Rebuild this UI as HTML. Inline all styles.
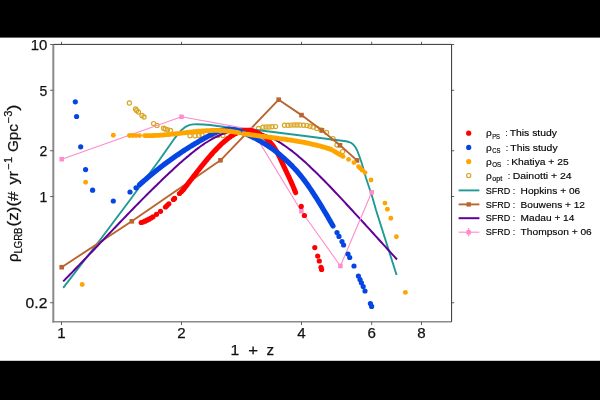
<!DOCTYPE html>
<html><head><meta charset="utf-8"><title>chart</title>
<style>html,body{margin:0;padding:0;background:#fff;width:600px;height:400px;overflow:hidden}
body{font-family:"Liberation Sans",sans-serif}</style></head>
<body>
<svg width="600" height="400" viewBox="0 0 600 400" style="display:block;position:absolute;left:0;top:0">
<rect x="0" y="0" width="600" height="400" fill="#ffffff"/>
<rect x="0" y="0" width="600" height="37.6" fill="#000"/>
<rect x="0" y="360.8" width="600" height="39.2" fill="#000"/>
<defs><clipPath id="ax"><rect x="53.3" y="44.4" width="398.3" height="277.40000000000003"/></clipPath></defs>
<g clip-path="url(#ax)" fill="none" stroke-linejoin="round">
<g stroke="#daa520" stroke-width="1.2" fill="none">
<circle cx="129.4" cy="103" r="2.1"/>
<circle cx="135.6" cy="109" r="2.1"/>
<circle cx="136.6" cy="110.4" r="2.1"/>
<circle cx="138.4" cy="112" r="2.1"/>
<circle cx="142" cy="115.4" r="2.1"/>
<circle cx="144" cy="117" r="2.1"/>
<circle cx="153.6" cy="123.6" r="2.1"/>
<circle cx="157" cy="125.4" r="2.1"/>
<circle cx="163.6" cy="128.2" r="2.1"/>
<circle cx="165.2" cy="129" r="2.1"/>
<circle cx="167.4" cy="129.7" r="2.1"/>
<circle cx="170.5" cy="130.4" r="2.1"/>
<circle cx="190" cy="135.8" r="2.1"/>
<circle cx="195" cy="135.8" r="2.1"/>
<circle cx="199" cy="135.4" r="2.1"/>
<circle cx="202" cy="135" r="2.1"/>
<circle cx="212" cy="135.6" r="2.1"/>
<circle cx="218" cy="135.6" r="2.1"/>
<circle cx="223" cy="135.6" r="2.1"/>
<circle cx="258.5" cy="128.4" r="2.1"/>
<circle cx="263" cy="127.2" r="2.1"/>
<circle cx="266" cy="127" r="2.1"/>
<circle cx="269" cy="127" r="2.1"/>
<circle cx="272" cy="126.8" r="2.1"/>
<circle cx="275.5" cy="126.6" r="2.1"/>
<circle cx="284.5" cy="125.3" r="2.1"/>
<circle cx="288" cy="125.2" r="2.1"/>
<circle cx="291" cy="125.1" r="2.1"/>
<circle cx="294" cy="125" r="2.1"/>
<circle cx="297" cy="125" r="2.1"/>
<circle cx="300" cy="125" r="2.1"/>
<circle cx="303.5" cy="125.2" r="2.1"/>
<circle cx="307" cy="125.6" r="2.1"/>
<circle cx="310" cy="126.2" r="2.1"/>
<circle cx="313" cy="127" r="2.1"/>
<circle cx="317" cy="128.4" r="2.1"/>
<circle cx="321" cy="130" r="2.1"/>
<circle cx="326.6" cy="132.4" r="2.1"/>
<circle cx="333" cy="138.6" r="2.1"/>
<circle cx="337" cy="145" r="2.1"/>
<circle cx="342.6" cy="151.6" r="2.1"/>
</g>
<path d="M63.20,287.80 L91.50,251.00 L100.00,240.00 L130.00,200.00 L152.00,170.00 L159.40,160.00 L165.00,152.00 L175.00,137.80 L179.50,132.20 L182.50,129.20 L185.00,127.20 L187.50,125.80 L190.00,124.90 L193.00,124.40 L197.00,124.30 L203.00,124.50 L210.00,125.00 L225.00,127.00 L259.00,130.20 L305.00,136.00 L330.00,139.20 L342.00,140.70 L346.00,141.30 L349.00,142.00 L351.50,143.10 L353.50,144.80 L355.30,147.00 L357.00,150.00 L359.50,156.50 L362.00,164.00 L366.00,178.00 L372.00,196.00 L376.00,210.00 L395.00,270.00 L396.60,275.00" stroke="#1f9a94" stroke-width="1.9"/>
<path d="M61.70,267.20 L131.80,221.30 L220.50,160.30 L278.70,99.70 L301.50,115.10 L322.00,130.40 L340.00,145.30 L357.00,160.40" stroke="#ba652f" stroke-width="1.9"/>
<rect x="59.40" y="264.90" width="4.6" height="4.6" fill="#ba652f" stroke="none"/>
<rect x="129.50" y="219.00" width="4.6" height="4.6" fill="#ba652f" stroke="none"/>
<rect x="218.20" y="158.00" width="4.6" height="4.6" fill="#ba652f" stroke="none"/>
<rect x="276.40" y="97.40" width="4.6" height="4.6" fill="#ba652f" stroke="none"/>
<rect x="299.20" y="112.80" width="4.6" height="4.6" fill="#ba652f" stroke="none"/>
<rect x="319.70" y="128.10" width="4.6" height="4.6" fill="#ba652f" stroke="none"/>
<rect x="337.70" y="143.00" width="4.6" height="4.6" fill="#ba652f" stroke="none"/>
<rect x="354.70" y="158.10" width="4.6" height="4.6" fill="#ba652f" stroke="none"/>
<path d="M63.20,281.40 C63.67,280.92 65.07,279.51 66.01,278.56 C66.94,277.61 67.88,276.66 68.81,275.71 C69.75,274.75 70.68,273.80 71.62,272.84 C72.55,271.88 73.49,270.92 74.42,269.96 C75.36,268.99 76.29,268.03 77.23,267.06 C78.16,266.10 79.10,265.13 80.03,264.16 C80.97,263.19 81.90,262.22 82.84,261.25 C83.77,260.28 84.71,259.30 85.64,258.33 C86.58,257.35 87.51,256.38 88.45,255.40 C89.38,254.42 90.32,253.44 91.25,252.47 C92.19,251.49 93.12,250.51 94.06,249.53 C94.99,248.55 95.93,247.56 96.86,246.58 C97.80,245.60 98.73,244.62 99.67,243.64 C100.60,242.66 101.54,241.67 102.47,240.69 C103.41,239.71 104.34,238.73 105.28,237.74 C106.21,236.76 107.15,235.78 108.08,234.80 C109.02,233.82 109.95,232.83 110.89,231.85 C111.82,230.87 112.76,229.89 113.69,228.91 C114.63,227.93 115.56,226.95 116.50,225.97 C117.43,225.00 118.37,224.02 119.30,223.04 C120.24,222.07 121.17,221.09 122.11,220.12 C123.04,219.14 123.98,218.17 124.91,217.20 C125.85,216.23 126.78,215.26 127.72,214.29 C128.65,213.32 129.59,212.36 130.52,211.39 C131.46,210.43 132.39,209.47 133.33,208.51 C134.26,207.55 135.20,206.59 136.13,205.63 C137.07,204.67 138.00,203.72 138.94,202.77 C139.87,201.82 140.81,200.87 141.74,199.92 C142.68,198.98 143.61,198.03 144.55,197.09 C145.48,196.15 146.42,195.21 147.35,194.28 C148.29,193.34 149.22,192.41 150.16,191.48 C151.09,190.55 152.03,189.63 152.96,188.70 C153.90,187.78 154.83,186.86 155.77,185.95 C156.70,185.03 157.64,184.12 158.57,183.21 C159.51,182.31 160.44,181.40 161.38,180.50 C162.31,179.60 163.25,178.70 164.18,177.81 C165.12,176.92 166.05,176.03 166.99,175.15 C167.92,174.27 168.86,173.39 169.79,172.51 C170.73,171.64 171.66,170.77 172.60,169.90 C173.53,169.04 174.47,168.17 175.40,167.32 C176.34,166.46 177.27,165.61 178.21,164.77 C179.14,163.92 180.08,163.09 181.01,162.26 C181.95,161.43 182.88,160.60 183.82,159.79 C184.75,158.97 185.69,158.17 186.62,157.37 C187.56,156.57 188.49,155.79 189.43,155.01 C190.36,154.24 191.30,153.47 192.23,152.72 C193.17,151.97 194.10,151.23 195.04,150.50 C195.97,149.78 196.91,149.06 197.84,148.36 C198.78,147.67 199.71,146.98 200.65,146.31 C201.58,145.65 202.52,144.99 203.45,144.36 C204.39,143.72 205.32,143.10 206.26,142.50 C207.19,141.90 208.13,141.32 209.06,140.76 C210.00,140.20 210.93,139.65 211.87,139.13 C212.80,138.61 213.74,138.10 214.67,137.62 C215.61,137.14 216.54,136.68 217.48,136.25 C218.41,135.81 219.35,135.40 220.28,135.01 C221.22,134.61 222.15,134.25 223.09,133.90 C224.02,133.56 224.96,133.23 225.89,132.93 C226.83,132.64 227.76,132.36 228.70,132.11 C229.63,131.86 230.57,131.63 231.50,131.43 C232.44,131.23 233.37,131.05 234.31,130.90 C235.24,130.75 236.18,130.62 237.11,130.52 C238.05,130.42 238.98,130.34 239.92,130.29 C240.85,130.24 241.79,130.22 242.72,130.22 C243.66,130.22 244.59,130.25 245.53,130.31 C246.46,130.36 247.40,130.44 248.33,130.54 C249.27,130.64 250.20,130.77 251.14,130.92 C252.07,131.07 253.01,131.24 253.94,131.44 C254.88,131.64 255.81,131.86 256.75,132.11 C257.68,132.35 258.62,132.62 259.55,132.91 C260.49,133.20 261.42,133.51 262.36,133.85 C263.29,134.18 264.23,134.54 265.16,134.92 C266.10,135.29 267.03,135.69 267.97,136.11 C268.90,136.53 269.84,136.97 270.77,137.43 C271.71,137.89 272.64,138.38 273.58,138.88 C274.51,139.38 275.45,139.90 276.38,140.44 C277.32,140.98 278.25,141.54 279.19,142.12 C280.12,142.69 281.06,143.29 281.99,143.90 C282.93,144.52 283.86,145.15 284.80,145.80 C285.73,146.44 286.67,147.11 287.60,147.79 C288.54,148.47 289.47,149.17 290.41,149.88 C291.34,150.59 292.28,151.32 293.21,152.06 C294.15,152.80 295.08,153.56 296.02,154.32 C296.95,155.09 297.89,155.87 298.82,156.67 C299.76,157.46 300.69,158.27 301.63,159.09 C302.56,159.91 303.50,160.74 304.43,161.58 C305.37,162.42 306.30,163.27 307.24,164.13 C308.17,164.99 309.11,165.87 310.04,166.75 C310.98,167.63 311.91,168.52 312.85,169.41 C313.78,170.31 314.72,171.22 315.65,172.13 C316.59,173.05 317.52,173.97 318.46,174.90 C319.39,175.82 320.33,176.76 321.26,177.70 C322.20,178.64 323.13,179.59 324.07,180.54 C325.00,181.49 325.94,182.45 326.87,183.42 C327.81,184.38 328.74,185.35 329.68,186.32 C330.61,187.29 331.55,188.27 332.48,189.25 C333.42,190.24 334.35,191.22 335.29,192.21 C336.22,193.20 337.16,194.19 338.09,195.19 C339.03,196.18 339.96,197.18 340.90,198.18 C341.83,199.18 342.77,200.18 343.70,201.18 C344.64,202.19 345.57,203.19 346.51,204.20 C347.44,205.21 348.38,206.22 349.31,207.23 C350.25,208.24 351.18,209.25 352.12,210.27 C353.05,211.28 353.99,212.30 354.92,213.32 C355.86,214.33 356.79,215.35 357.73,216.37 C358.66,217.39 359.60,218.41 360.53,219.44 C361.47,220.46 362.40,221.48 363.34,222.51 C364.27,223.53 365.21,224.56 366.14,225.58 C367.08,226.61 368.01,227.63 368.95,228.66 C369.88,229.69 370.82,230.71 371.75,231.74 C372.69,232.77 373.62,233.80 374.56,234.83 C375.49,235.86 376.43,236.88 377.36,237.91 C378.30,238.94 379.23,239.97 380.17,241.00 C381.10,242.03 382.04,243.06 382.97,244.08 C383.91,245.11 384.84,246.14 385.78,247.17 C386.71,248.20 387.65,249.22 388.58,250.25 C389.52,251.27 390.45,252.30 391.39,253.33 C392.32,254.35 393.26,255.37 394.19,256.40 C395.13,257.42 396.53,258.95 397.00,259.46" stroke="#62009a" stroke-width="2.0"/>
<path d="M61.70,159.20 L181.50,116.80 L251.70,129.60 L301.40,211.20 L340.40,266.00 L371.70,192.30" stroke="#ff8bca" stroke-width="1.1"/>
<rect x="59.45" y="156.95" width="4.5" height="4.5" fill="#ff8bca" stroke="none"/>
<rect x="179.25" y="114.55" width="4.5" height="4.5" fill="#ff8bca" stroke="none"/>
<rect x="249.45" y="127.35" width="4.5" height="4.5" fill="#ff8bca" stroke="none"/>
<rect x="299.15" y="208.95" width="4.5" height="4.5" fill="#ff8bca" stroke="none"/>
<rect x="338.15" y="263.75" width="4.5" height="4.5" fill="#ff8bca" stroke="none"/>
<rect x="369.45" y="190.05" width="4.5" height="4.5" fill="#ff8bca" stroke="none"/>
<path d="M183.00,190.12 C183.16,189.92 183.63,189.31 183.95,188.90 C184.26,188.49 184.58,188.08 184.89,187.68 C185.21,187.27 185.52,186.86 185.84,186.45 C186.15,186.04 186.47,185.63 186.78,185.22 C187.10,184.81 187.42,184.40 187.73,183.99 C188.05,183.58 188.36,183.17 188.68,182.76 C188.99,182.35 189.31,181.94 189.62,181.53 C189.94,181.12 190.25,180.71 190.57,180.30 C190.89,179.89 191.20,179.48 191.52,179.07 C191.83,178.66 192.15,178.25 192.46,177.84 C192.78,177.43 193.09,177.02 193.41,176.61 C193.72,176.21 194.04,175.80 194.35,175.39 C194.67,174.98 194.99,174.58 195.30,174.17 C195.62,173.76 195.93,173.36 196.25,172.95 C196.56,172.55 196.88,172.14 197.19,171.74 C197.51,171.34 197.82,170.94 198.14,170.53 C198.45,170.13 198.77,169.73 199.09,169.33 C199.40,168.93 199.72,168.54 200.03,168.14 C200.35,167.74 200.66,167.34 200.98,166.95 C201.29,166.56 201.61,166.16 201.92,165.77 C202.24,165.38 202.56,164.99 202.87,164.60 C203.19,164.21 203.50,163.82 203.82,163.43 C204.13,163.05 204.45,162.66 204.76,162.28 C205.08,161.89 205.39,161.51 205.71,161.13 C206.02,160.75 206.34,160.38 206.66,160.00 C206.97,159.62 207.29,159.25 207.60,158.88 C207.92,158.50 208.23,158.13 208.55,157.76 C208.86,157.40 209.18,157.03 209.49,156.66 C209.81,156.30 210.12,155.94 210.44,155.58 C210.76,155.22 211.07,154.86 211.39,154.50 C211.70,154.15 212.02,153.80 212.33,153.45 C212.65,153.09 212.96,152.75 213.28,152.40 C213.59,152.05 213.91,151.71 214.23,151.37 C214.54,151.03 214.86,150.69 215.17,150.36 C215.49,150.02 215.80,149.69 216.12,149.36 C216.43,149.03 216.75,148.70 217.06,148.38 C217.38,148.06 217.69,147.74 218.01,147.42 C218.33,147.10 218.64,146.79 218.96,146.47 C219.27,146.16 219.59,145.85 219.90,145.55 C220.22,145.24 220.53,144.94 220.85,144.64 C221.16,144.35 221.48,144.05 221.79,143.76 C222.11,143.47 222.43,143.18 222.74,142.89 C223.06,142.61 223.37,142.33 223.69,142.05 C224.00,141.77 224.32,141.50 224.63,141.23 C224.95,140.96 225.26,140.70 225.58,140.43 C225.90,140.17 226.21,139.91 226.53,139.66 C226.84,139.41 227.16,139.16 227.47,138.91 C227.79,138.66 228.10,138.42 228.42,138.19 C228.73,137.95 229.05,137.72 229.36,137.49 C229.68,137.26 230.00,137.03 230.31,136.81 C230.63,136.59 230.94,136.38 231.26,136.17 C231.57,135.96 231.89,135.75 232.20,135.55 C232.52,135.35 232.83,135.15 233.15,134.96 C233.46,134.76 233.78,134.58 234.10,134.39 C234.41,134.21 234.73,134.03 235.04,133.86 C235.36,133.69 235.67,133.52 235.99,133.36 C236.30,133.20 236.62,133.04 236.93,132.89 C237.25,132.73 237.57,132.59 237.88,132.45 C238.20,132.30 238.51,132.17 238.83,132.04 C239.14,131.91 239.46,131.79 239.77,131.67 C240.09,131.55 240.40,131.44 240.72,131.34 C241.03,131.23 241.35,131.13 241.67,131.04 C241.98,130.95 242.30,130.87 242.61,130.79 C242.93,130.71 243.24,130.64 243.56,130.58 C243.87,130.52 244.19,130.46 244.50,130.41 C244.82,130.36 245.14,130.32 245.45,130.29 C245.77,130.26 246.08,130.23 246.40,130.22 C246.71,130.20 247.03,130.19 247.34,130.19 C247.66,130.19 247.97,130.20 248.29,130.21 C248.60,130.23 248.92,130.25 249.24,130.28 C249.55,130.31 249.87,130.35 250.18,130.40 C250.50,130.44 250.81,130.50 251.13,130.56 C251.44,130.62 251.76,130.69 252.07,130.76 C252.39,130.84 252.70,130.92 253.02,131.01 C253.34,131.10 253.65,131.19 253.97,131.30 C254.28,131.40 254.60,131.51 254.91,131.63 C255.23,131.75 255.54,131.87 255.86,132.00 C256.17,132.13 256.49,132.27 256.81,132.42 C257.12,132.56 257.44,132.71 257.75,132.87 C258.07,133.03 258.38,133.19 258.70,133.36 C259.01,133.53 259.33,133.71 259.64,133.89 C259.96,134.07 260.27,134.26 260.59,134.46 C260.91,134.65 261.22,134.86 261.54,135.06 C261.85,135.27 262.17,135.48 262.48,135.70 C262.80,135.92 263.11,136.15 263.43,136.38 C263.74,136.61 264.06,136.84 264.37,137.09 C264.69,137.33 265.01,137.58 265.32,137.83 C265.64,138.08 265.95,138.34 266.27,138.61 C266.58,138.88 266.90,139.16 267.21,139.44 C267.53,139.72 267.84,140.02 268.16,140.32 C268.48,140.62 268.79,140.93 269.11,141.25 C269.42,141.58 269.74,141.91 270.05,142.25 C270.37,142.60 270.68,142.95 271.00,143.32 C271.31,143.69 271.63,144.07 271.94,144.46 C272.26,144.86 272.58,145.27 272.89,145.69 C273.21,146.11 273.52,146.55 273.84,147.01 C274.15,147.46 274.47,147.93 274.78,148.42 C275.10,148.90 275.41,149.40 275.73,149.92 C276.04,150.45 276.36,150.98 276.68,151.54 C276.99,152.10 277.31,152.68 277.62,153.27 C277.94,153.86 278.25,154.48 278.57,155.10 C278.88,155.72 279.20,156.37 279.51,157.02 C279.83,157.66 280.15,158.33 280.46,159.00 C280.78,159.67 281.09,160.34 281.41,161.03 C281.72,161.71 282.04,162.40 282.35,163.09 C282.67,163.77 282.98,164.47 283.30,165.16 C283.61,165.85 283.93,166.54 284.25,167.22 C284.56,167.90 284.88,168.58 285.19,169.26 C285.51,169.93 285.82,170.60 286.14,171.26 C286.45,171.93 286.77,172.59 287.08,173.25 C287.40,173.91 287.71,174.57 288.03,175.23 C288.35,175.89 288.66,176.55 288.98,177.22 C289.29,177.89 289.61,178.57 289.92,179.25 C290.24,179.93 290.55,180.62 290.87,181.32 C291.18,182.02 291.50,182.73 291.82,183.44 C292.13,184.16 292.45,184.89 292.76,185.63 C293.08,186.37 293.39,187.12 293.71,187.88 C294.02,188.64 294.34,189.41 294.65,190.20 C294.97,190.98 295.44,192.19 295.60,192.59" stroke="#ff0000" stroke-width="5.1" stroke-linecap="round"/>
<circle cx="141.2" cy="222.5" r="2.6" fill="#ff0000"/>
<circle cx="143" cy="222" r="2.6" fill="#ff0000"/>
<circle cx="145" cy="221.2" r="2.6" fill="#ff0000"/>
<circle cx="147" cy="220.2" r="2.6" fill="#ff0000"/>
<circle cx="149" cy="219.2" r="2.6" fill="#ff0000"/>
<circle cx="151" cy="218" r="2.6" fill="#ff0000"/>
<circle cx="153" cy="216.8" r="2.6" fill="#ff0000"/>
<circle cx="156.5" cy="214.3" r="2.6" fill="#ff0000"/>
<circle cx="160.5" cy="211.3" r="2.6" fill="#ff0000"/>
<circle cx="165.5" cy="207" r="2.6" fill="#ff0000"/>
<circle cx="167" cy="205.5" r="2.6" fill="#ff0000"/>
<circle cx="168.8" cy="203.8" r="2.6" fill="#ff0000"/>
<circle cx="173.5" cy="199.5" r="2.6" fill="#ff0000"/>
<circle cx="174.6" cy="198.4" r="2.6" fill="#ff0000"/>
<circle cx="179.5" cy="193.5" r="2.6" fill="#ff0000"/>
<circle cx="181.5" cy="191.5" r="2.6" fill="#ff0000"/>
<circle cx="301.25" cy="206.4" r="2.6" fill="#ff0000"/>
<circle cx="304.4" cy="215.5" r="2.6" fill="#ff0000"/>
<circle cx="314.8" cy="247.6" r="2.6" fill="#ff0000"/>
<circle cx="317.7" cy="256.1" r="2.6" fill="#ff0000"/>
<circle cx="319.3" cy="261" r="2.6" fill="#ff0000"/>
<circle cx="321" cy="267.3" r="2.6" fill="#ff0000"/>
<circle cx="321.6" cy="269.4" r="2.6" fill="#ff0000"/>
<path d="M139.50,184.77 C139.73,184.56 140.43,183.94 140.89,183.53 C141.36,183.12 141.82,182.71 142.28,182.30 C142.75,181.89 143.21,181.49 143.68,181.08 C144.14,180.68 144.60,180.28 145.07,179.88 C145.53,179.48 146.00,179.08 146.46,178.69 C146.92,178.29 147.39,177.90 147.85,177.50 C148.32,177.11 148.78,176.72 149.24,176.33 C149.71,175.94 150.17,175.56 150.64,175.17 C151.10,174.79 151.56,174.40 152.03,174.02 C152.49,173.64 152.96,173.26 153.42,172.89 C153.88,172.51 154.35,172.13 154.81,171.76 C155.28,171.38 155.74,171.01 156.21,170.64 C156.67,170.27 157.13,169.90 157.60,169.54 C158.06,169.17 158.53,168.81 158.99,168.44 C159.45,168.08 159.92,167.72 160.38,167.36 C160.85,167.00 161.31,166.64 161.77,166.29 C162.24,165.93 162.70,165.58 163.17,165.22 C163.63,164.87 164.09,164.52 164.56,164.17 C165.02,163.82 165.49,163.48 165.95,163.13 C166.41,162.78 166.88,162.44 167.34,162.10 C167.81,161.76 168.27,161.42 168.73,161.08 C169.20,160.74 169.66,160.40 170.13,160.07 C170.59,159.73 171.05,159.40 171.52,159.07 C171.98,158.74 172.45,158.41 172.91,158.08 C173.37,157.75 173.84,157.42 174.30,157.10 C174.77,156.77 175.23,156.45 175.69,156.13 C176.16,155.81 176.62,155.49 177.09,155.17 C177.55,154.85 178.01,154.53 178.48,154.22 C178.94,153.90 179.41,153.59 179.87,153.28 C180.33,152.97 180.80,152.66 181.26,152.35 C181.73,152.04 182.19,151.73 182.65,151.43 C183.12,151.12 183.58,150.82 184.05,150.52 C184.51,150.22 184.97,149.91 185.44,149.62 C185.90,149.32 186.37,149.02 186.83,148.72 C187.29,148.43 187.76,148.14 188.22,147.84 C188.69,147.55 189.15,147.26 189.62,146.97 C190.08,146.68 190.54,146.39 191.01,146.11 C191.47,145.82 191.94,145.54 192.40,145.25 C192.86,144.97 193.33,144.69 193.79,144.41 C194.26,144.13 194.72,143.85 195.18,143.57 C195.65,143.30 196.11,143.02 196.58,142.75 C197.04,142.47 197.50,142.20 197.97,141.93 C198.43,141.66 198.90,141.39 199.36,141.12 C199.82,140.86 200.29,140.59 200.75,140.32 C201.22,140.06 201.68,139.80 202.14,139.53 C202.61,139.27 203.07,139.01 203.54,138.75 C204.00,138.49 204.46,138.24 204.93,137.98 C205.39,137.73 205.86,137.47 206.32,137.22 C206.78,136.97 207.25,136.71 207.71,136.46 C208.18,136.22 208.64,135.97 209.10,135.73 C209.57,135.48 210.03,135.24 210.50,135.01 C210.96,134.77 211.42,134.54 211.89,134.31 C212.35,134.08 212.82,133.86 213.28,133.64 C213.74,133.42 214.21,133.21 214.67,133.00 C215.14,132.80 215.60,132.60 216.06,132.40 C216.53,132.21 216.99,132.02 217.46,131.85 C217.92,131.67 218.38,131.50 218.85,131.33 C219.31,131.17 219.78,131.02 220.24,130.87 C220.71,130.73 221.17,130.59 221.63,130.47 C222.10,130.34 222.56,130.22 223.03,130.12 C223.49,130.01 223.95,129.92 224.42,129.84 C224.88,129.75 225.35,129.68 225.81,129.62 C226.27,129.56 226.74,129.52 227.20,129.48 C227.67,129.45 228.13,129.43 228.59,129.41 C229.06,129.40 229.52,129.40 229.99,129.42 C230.45,129.43 230.91,129.45 231.38,129.49 C231.84,129.52 232.31,129.57 232.77,129.63 C233.23,129.69 233.70,129.76 234.16,129.84 C234.63,129.92 235.09,130.01 235.55,130.11 C236.02,130.21 236.48,130.32 236.95,130.44 C237.41,130.57 237.87,130.70 238.34,130.84 C238.80,130.98 239.27,131.14 239.73,131.30 C240.19,131.46 240.66,131.63 241.12,131.81 C241.59,131.99 242.05,132.17 242.51,132.36 C242.98,132.56 243.44,132.76 243.91,132.96 C244.37,133.16 244.83,133.37 245.30,133.58 C245.76,133.79 246.23,134.01 246.69,134.22 C247.15,134.44 247.62,134.66 248.08,134.88 C248.55,135.10 249.01,135.32 249.47,135.54 C249.94,135.77 250.40,135.99 250.87,136.22 C251.33,136.44 251.79,136.67 252.26,136.90 C252.72,137.13 253.19,137.36 253.65,137.60 C254.12,137.83 254.58,138.07 255.04,138.31 C255.51,138.55 255.97,138.79 256.44,139.04 C256.90,139.28 257.36,139.53 257.83,139.78 C258.29,140.04 258.76,140.29 259.22,140.55 C259.68,140.81 260.15,141.07 260.61,141.34 C261.08,141.60 261.54,141.87 262.00,142.15 C262.47,142.42 262.93,142.69 263.40,142.98 C263.86,143.26 264.32,143.54 264.79,143.83 C265.25,144.12 265.72,144.41 266.18,144.70 C266.64,145.00 267.11,145.30 267.57,145.60 C268.04,145.91 268.50,146.22 268.96,146.53 C269.43,146.84 269.89,147.16 270.36,147.48 C270.82,147.80 271.28,148.13 271.75,148.46 C272.21,148.79 272.68,149.13 273.14,149.47 C273.60,149.81 274.07,150.15 274.53,150.50 C275.00,150.85 275.46,151.21 275.92,151.57 C276.39,151.93 276.85,152.29 277.32,152.66 C277.78,153.03 278.24,153.40 278.71,153.78 C279.17,154.16 279.64,154.54 280.10,154.93 C280.56,155.32 281.03,155.71 281.49,156.11 C281.96,156.51 282.42,156.91 282.88,157.32 C283.35,157.73 283.81,158.14 284.28,158.55 C284.74,158.97 285.21,159.39 285.67,159.81 C286.13,160.24 286.60,160.67 287.06,161.10 C287.53,161.54 287.99,161.97 288.45,162.42 C288.92,162.86 289.38,163.31 289.85,163.77 C290.31,164.22 290.77,164.69 291.24,165.15 C291.70,165.62 292.17,166.10 292.63,166.58 C293.09,167.06 293.56,167.54 294.02,168.04 C294.49,168.53 294.95,169.03 295.41,169.54 C295.88,170.05 296.34,170.56 296.81,171.09 C297.27,171.61 297.73,172.14 298.20,172.68 C298.66,173.22 299.13,173.77 299.59,174.32 C300.05,174.88 300.52,175.44 300.98,176.02 C301.45,176.59 301.91,177.17 302.37,177.76 C302.84,178.36 303.30,178.96 303.77,179.57 C304.23,180.18 304.69,180.80 305.16,181.43 C305.62,182.06 306.09,182.70 306.55,183.35 C307.01,184.00 307.48,184.66 307.94,185.32 C308.41,185.99 308.87,186.66 309.33,187.34 C309.80,188.02 310.26,188.71 310.73,189.40 C311.19,190.09 311.65,190.79 312.12,191.49 C312.58,192.19 313.05,192.90 313.51,193.61 C313.97,194.32 314.44,195.04 314.90,195.76 C315.37,196.48 315.83,197.21 316.29,197.94 C316.76,198.67 317.22,199.41 317.69,200.15 C318.15,200.89 318.62,201.63 319.08,202.38 C319.54,203.13 320.01,203.88 320.47,204.64 C320.94,205.40 321.40,206.16 321.86,206.92 C322.33,207.69 322.79,208.46 323.26,209.23 C323.72,210.00 324.18,210.78 324.65,211.56 C325.11,212.34 325.58,213.13 326.04,213.92 C326.50,214.70 326.97,215.49 327.43,216.29 C327.90,217.08 328.36,217.88 328.82,218.68 C329.29,219.48 329.75,220.29 330.22,221.10 C330.68,221.90 331.14,222.71 331.61,223.53 C332.07,224.34 332.77,225.57 333.00,225.98" stroke="#0545e3" stroke-width="5.2" stroke-linecap="round"/>
<circle cx="75.3" cy="101.8" r="2.6" fill="#0545e3"/>
<circle cx="76.6" cy="116.5" r="2.6" fill="#0545e3"/>
<circle cx="80.7" cy="146.8" r="2.6" fill="#0545e3"/>
<circle cx="85.6" cy="169.6" r="2.6" fill="#0545e3"/>
<circle cx="92.6" cy="190.2" r="2.6" fill="#0545e3"/>
<circle cx="113.3" cy="201" r="2.6" fill="#0545e3"/>
<circle cx="130" cy="192" r="2.6" fill="#0545e3"/>
<circle cx="136" cy="187.8" r="2.6" fill="#0545e3"/>
<circle cx="337" cy="232.6" r="2.6" fill="#0545e3"/>
<circle cx="339" cy="236.4" r="2.6" fill="#0545e3"/>
<circle cx="342" cy="241.6" r="2.6" fill="#0545e3"/>
<circle cx="343.6" cy="245" r="2.6" fill="#0545e3"/>
<circle cx="348" cy="254" r="2.6" fill="#0545e3"/>
<circle cx="349.7" cy="257.5" r="2.6" fill="#0545e3"/>
<circle cx="354" cy="266" r="2.6" fill="#0545e3"/>
<circle cx="358.4" cy="276" r="2.6" fill="#0545e3"/>
<circle cx="360" cy="279.6" r="2.6" fill="#0545e3"/>
<circle cx="361.4" cy="282.8" r="2.6" fill="#0545e3"/>
<circle cx="363.2" cy="286.6" r="2.6" fill="#0545e3"/>
<circle cx="365" cy="291" r="2.6" fill="#0545e3"/>
<circle cx="370.4" cy="303.6" r="2.6" fill="#0545e3"/>
<circle cx="371.6" cy="306.4" r="2.6" fill="#0545e3"/>
<path d="M144.50,135.53 C144.77,135.53 145.57,135.56 146.10,135.57 C146.63,135.58 147.16,135.59 147.70,135.59 C148.23,135.60 148.76,135.60 149.29,135.60 C149.83,135.60 150.36,135.59 150.89,135.59 C151.43,135.58 151.96,135.57 152.49,135.56 C153.02,135.55 153.56,135.53 154.09,135.51 C154.62,135.50 155.16,135.48 155.69,135.45 C156.22,135.43 156.75,135.41 157.29,135.38 C157.82,135.35 158.35,135.32 158.88,135.29 C159.42,135.26 159.95,135.23 160.48,135.19 C161.02,135.16 161.55,135.12 162.08,135.08 C162.61,135.04 163.15,135.00 163.68,134.96 C164.21,134.91 164.75,134.87 165.28,134.82 C165.81,134.78 166.34,134.73 166.88,134.68 C167.41,134.63 167.94,134.58 168.47,134.53 C169.01,134.48 169.54,134.43 170.07,134.38 C170.61,134.32 171.14,134.27 171.67,134.21 C172.20,134.16 172.74,134.10 173.27,134.04 C173.80,133.99 174.34,133.93 174.87,133.87 C175.40,133.81 175.93,133.75 176.47,133.69 C177.00,133.63 177.53,133.57 178.06,133.51 C178.60,133.45 179.13,133.39 179.66,133.33 C180.20,133.26 180.73,133.20 181.26,133.14 C181.79,133.08 182.33,133.02 182.86,132.95 C183.39,132.89 183.92,132.83 184.46,132.77 C184.99,132.71 185.52,132.65 186.06,132.59 C186.59,132.52 187.12,132.46 187.65,132.40 C188.19,132.34 188.72,132.28 189.25,132.22 C189.79,132.16 190.32,132.11 190.85,132.05 C191.38,131.99 191.92,131.93 192.45,131.88 C192.98,131.82 193.51,131.77 194.05,131.71 C194.58,131.66 195.11,131.60 195.65,131.55 C196.18,131.50 196.71,131.45 197.24,131.40 C197.78,131.35 198.31,131.30 198.84,131.26 C199.38,131.21 199.91,131.16 200.44,131.12 C200.97,131.08 201.51,131.04 202.04,131.00 C202.57,130.96 203.10,130.92 203.64,130.88 C204.17,130.84 204.70,130.81 205.24,130.78 C205.77,130.75 206.30,130.71 206.83,130.69 C207.37,130.66 207.90,130.63 208.43,130.61 C208.96,130.58 209.50,130.56 210.03,130.54 C210.56,130.53 211.10,130.51 211.63,130.50 C212.16,130.48 212.69,130.47 213.23,130.46 C213.76,130.45 214.29,130.45 214.83,130.44 C215.36,130.44 215.89,130.44 216.42,130.44 C216.96,130.45 217.49,130.45 218.02,130.46 C218.55,130.47 219.09,130.49 219.62,130.50 C220.15,130.52 220.69,130.54 221.22,130.56 C221.75,130.58 222.28,130.61 222.82,130.64 C223.35,130.67 223.88,130.70 224.42,130.74 C224.95,130.78 225.48,130.82 226.01,130.86 C226.55,130.91 227.08,130.95 227.61,131.01 C228.14,131.06 228.68,131.12 229.21,131.18 C229.74,131.24 230.28,131.30 230.81,131.37 C231.34,131.44 231.87,131.52 232.41,131.59 C232.94,131.67 233.47,131.76 234.01,131.84 C234.54,131.93 235.07,132.02 235.60,132.12 C236.14,132.22 236.67,132.32 237.20,132.42 C237.73,132.53 238.53,132.70 238.80,132.76" stroke="#ffa500" stroke-width="4.8" stroke-linecap="round"/>
<path d="M243.30,133.68 C243.55,133.71 244.29,133.83 244.79,133.90 C245.28,133.98 245.78,134.05 246.27,134.12 C246.77,134.20 247.26,134.27 247.76,134.34 C248.25,134.41 248.75,134.48 249.25,134.55 C249.74,134.62 250.24,134.69 250.73,134.76 C251.23,134.83 251.72,134.90 252.22,134.97 C252.71,135.04 253.21,135.11 253.71,135.17 C254.20,135.24 254.70,135.31 255.19,135.37 C255.69,135.44 256.18,135.51 256.68,135.57 C257.17,135.64 257.67,135.70 258.16,135.77 C258.66,135.83 259.16,135.90 259.65,135.96 C260.15,136.03 260.64,136.09 261.14,136.15 C261.63,136.22 262.13,136.28 262.62,136.34 C263.12,136.41 263.61,136.47 264.11,136.54 C264.61,136.60 265.10,136.66 265.60,136.73 C266.09,136.79 266.59,136.85 267.08,136.91 C267.58,136.98 268.07,137.04 268.57,137.10 C269.06,137.17 269.56,137.23 270.06,137.29 C270.55,137.36 271.05,137.42 271.54,137.48 C272.04,137.55 272.53,137.61 273.03,137.68 C273.52,137.74 274.02,137.80 274.52,137.87 C275.01,137.93 275.51,138.00 276.00,138.06 C276.50,138.13 276.99,138.19 277.49,138.26 C277.98,138.32 278.48,138.39 278.97,138.46 C279.47,138.52 279.97,138.59 280.46,138.66 C280.96,138.72 281.45,138.79 281.95,138.86 C282.44,138.93 282.94,139.00 283.43,139.07 C283.93,139.14 284.42,139.21 284.92,139.28 C285.42,139.35 285.91,139.42 286.41,139.49 C286.90,139.56 287.40,139.63 287.89,139.71 C288.39,139.78 288.88,139.85 289.38,139.93 C289.88,140.00 290.37,140.08 290.87,140.15 C291.36,140.23 291.86,140.31 292.35,140.39 C292.85,140.46 293.34,140.54 293.84,140.62 C294.33,140.70 294.83,140.78 295.33,140.86 C295.82,140.94 296.32,141.03 296.81,141.11 C297.31,141.19 297.80,141.28 298.30,141.36 C298.79,141.45 299.29,141.54 299.78,141.62 C300.28,141.71 300.78,141.80 301.27,141.89 C301.77,141.98 302.26,142.07 302.76,142.17 C303.25,142.26 303.75,142.35 304.24,142.45 C304.74,142.55 305.24,142.64 305.73,142.74 C306.23,142.84 306.72,142.94 307.22,143.04 C307.71,143.14 308.21,143.25 308.70,143.35 C309.20,143.45 309.69,143.56 310.19,143.67 C310.69,143.78 311.18,143.89 311.68,144.00 C312.17,144.11 312.67,144.22 313.16,144.34 C313.66,144.45 314.15,144.57 314.65,144.69 C315.14,144.80 315.64,144.92 316.14,145.05 C316.63,145.17 317.13,145.29 317.62,145.42 C318.12,145.55 318.61,145.67 319.11,145.80 C319.60,145.93 320.10,146.07 320.59,146.20 C321.09,146.34 321.59,146.47 322.08,146.61 C322.58,146.75 323.07,146.89 323.57,147.03 C324.06,147.18 324.56,147.32 325.05,147.47 C325.55,147.62 326.05,147.77 326.54,147.92 C327.04,148.07 327.53,148.23 328.03,148.39 C328.52,148.54 329.02,148.70 329.51,148.87 C330.01,149.03 330.75,149.28 331.00,149.36" stroke="#ffa500" stroke-width="4.9" stroke-linecap="round"/>
<circle cx="82.2" cy="284.5" r="2.45" fill="#ffa500"/>
<circle cx="85.6" cy="182.2" r="2.45" fill="#ffa500"/>
<circle cx="113.3" cy="135.2" r="2.45" fill="#ffa500"/>
<circle cx="129.5" cy="135.5" r="2.45" fill="#ffa500"/>
<circle cx="132.5" cy="135.5" r="2.45" fill="#ffa500"/>
<circle cx="136" cy="135.6" r="2.45" fill="#ffa500"/>
<circle cx="139.5" cy="135.6" r="2.45" fill="#ffa500"/>
<circle cx="333" cy="150.6" r="2.45" fill="#ffa500"/>
<circle cx="335" cy="151.8" r="2.45" fill="#ffa500"/>
<circle cx="336.6" cy="152.7" r="2.45" fill="#ffa500"/>
<circle cx="338.4" cy="153.8" r="2.45" fill="#ffa500"/>
<circle cx="340.5" cy="155" r="2.45" fill="#ffa500"/>
<circle cx="343" cy="156.4" r="2.45" fill="#ffa500"/>
<circle cx="348.6" cy="159.4" r="2.45" fill="#ffa500"/>
<circle cx="354" cy="162.6" r="2.45" fill="#ffa500"/>
<circle cx="358.6" cy="166.6" r="2.45" fill="#ffa500"/>
<circle cx="360" cy="168" r="2.45" fill="#ffa500"/>
<circle cx="362" cy="170" r="2.45" fill="#ffa500"/>
<circle cx="365" cy="172.6" r="2.45" fill="#ffa500"/>
<circle cx="371" cy="180" r="2.45" fill="#ffa500"/>
<circle cx="384.9" cy="203.1" r="2.45" fill="#ffa500"/>
<circle cx="387.4" cy="209.3" r="2.45" fill="#ffa500"/>
<circle cx="390.8" cy="218.2" r="2.45" fill="#ffa500"/>
<circle cx="396.4" cy="236.8" r="2.45" fill="#ffa500"/>
<circle cx="405.4" cy="292.4" r="2.45" fill="#ffa500"/>
</g>
<line x1="53.3" y1="44.4" x2="53.3" y2="322.5" stroke="#8a8a8a" stroke-width="2"/>
<line x1="52.3" y1="321.8" x2="451.6" y2="321.8" stroke="#8a8a8a" stroke-width="1.5"/>
<line x1="53.3" y1="44.4" x2="451.6" y2="44.4" stroke="#333" stroke-width="1"/>
<line x1="451.6" y1="44.4" x2="451.6" y2="321.8" stroke="#333" stroke-width="1"/>
<line x1="61.50" y1="321.8" x2="61.50" y2="325.0" stroke="#555" stroke-width="0.9"/>
<line x1="61.50" y1="44.4" x2="61.50" y2="41.8" stroke="#333" stroke-width="0.8"/>
<line x1="181.50" y1="321.8" x2="181.50" y2="325.0" stroke="#555" stroke-width="0.9"/>
<line x1="181.50" y1="44.4" x2="181.50" y2="41.8" stroke="#333" stroke-width="0.8"/>
<line x1="301.50" y1="321.8" x2="301.50" y2="325.0" stroke="#555" stroke-width="0.9"/>
<line x1="301.50" y1="44.4" x2="301.50" y2="41.8" stroke="#333" stroke-width="0.8"/>
<line x1="371.70" y1="321.8" x2="371.70" y2="325.0" stroke="#555" stroke-width="0.9"/>
<line x1="371.70" y1="44.4" x2="371.70" y2="41.8" stroke="#333" stroke-width="0.8"/>
<line x1="421.50" y1="321.8" x2="421.50" y2="325.0" stroke="#555" stroke-width="0.9"/>
<line x1="421.50" y1="44.4" x2="421.50" y2="41.8" stroke="#333" stroke-width="0.8"/>
<line x1="53.3" y1="44.50" x2="50.099999999999994" y2="44.50" stroke="#555" stroke-width="0.9"/>
<line x1="451.6" y1="44.50" x2="454.20000000000005" y2="44.50" stroke="#333" stroke-width="0.8"/>
<line x1="53.3" y1="90.26" x2="50.099999999999994" y2="90.26" stroke="#555" stroke-width="0.9"/>
<line x1="451.6" y1="90.26" x2="454.20000000000005" y2="90.26" stroke="#333" stroke-width="0.8"/>
<line x1="53.3" y1="150.74" x2="50.099999999999994" y2="150.74" stroke="#555" stroke-width="0.9"/>
<line x1="451.6" y1="150.74" x2="454.20000000000005" y2="150.74" stroke="#333" stroke-width="0.8"/>
<line x1="53.3" y1="196.50" x2="50.099999999999994" y2="196.50" stroke="#555" stroke-width="0.9"/>
<line x1="451.6" y1="196.50" x2="454.20000000000005" y2="196.50" stroke="#333" stroke-width="0.8"/>
<line x1="53.3" y1="302.74" x2="50.099999999999994" y2="302.74" stroke="#555" stroke-width="0.9"/>
<line x1="451.6" y1="302.74" x2="454.20000000000005" y2="302.74" stroke="#333" stroke-width="0.8"/>
<g font-family="'Liberation Sans', sans-serif" fill="#111" stroke="#111" stroke-width="0.25" font-size="14.8" style="filter:grayscale(1)">
<text x="30.799999999999997" y="49.9" textLength="16.6" lengthAdjust="spacingAndGlyphs">10</text>
<text x="39.6" y="95.65655934092514" textLength="7.8" lengthAdjust="spacingAndGlyphs">5</text>
<text x="39.6" y="156.14344065907486" textLength="7.8" lengthAdjust="spacingAndGlyphs">2</text>
<text x="39.6" y="201.9" textLength="7.8" lengthAdjust="spacingAndGlyphs">1</text>
<text x="25.599999999999998" y="308.1434406590748" textLength="21.8" lengthAdjust="spacingAndGlyphs">0.2</text>
<text x="57.3" y="338.3" textLength="8.4" lengthAdjust="spacingAndGlyphs">1</text>
<text x="177.3" y="338.3" textLength="8.4" lengthAdjust="spacingAndGlyphs">2</text>
<text x="297.3" y="338.3" textLength="8.4" lengthAdjust="spacingAndGlyphs">4</text>
<text x="367.49550008653875" y="338.3" textLength="8.4" lengthAdjust="spacingAndGlyphs">6</text>
<text x="417.3" y="338.3" textLength="8.4" lengthAdjust="spacingAndGlyphs">8</text>
<text x="230.5" y="354.6" textLength="8.8" lengthAdjust="spacingAndGlyphs">1</text>
<text x="248.2" y="354.6" textLength="9.8" lengthAdjust="spacingAndGlyphs">+</text>
<text x="266.5" y="354.6" textLength="7.6" lengthAdjust="spacingAndGlyphs">z</text>
<g transform="translate(18.2,262) rotate(-90)">
<text x="0" y="0" textLength="8.6" lengthAdjust="spacingAndGlyphs">ρ</text>
<text x="8.4" y="4.1" textLength="26" lengthAdjust="spacingAndGlyphs" font-size="10">LGRB</text>
<text x="35.6" y="0" textLength="35" lengthAdjust="spacingAndGlyphs">(z)(#</text>
<text x="77.5" y="0" textLength="13.5" lengthAdjust="spacingAndGlyphs">yr</text>
<text x="92.6" y="-6.4" textLength="12.4" lengthAdjust="spacingAndGlyphs" font-size="10.2">−1</text>
<text x="110" y="0" textLength="28" lengthAdjust="spacingAndGlyphs">Gpc</text>
<text x="138.8" y="-6.4" textLength="12.6" lengthAdjust="spacingAndGlyphs" font-size="10.2">−3</text>
<text x="151.3" y="0" textLength="6.2" lengthAdjust="spacingAndGlyphs">)</text>
</g>
</g>
<circle cx="468.7" cy="133.2" r="2.6" fill="#ff0000"/>
<circle cx="468.7" cy="147.4" r="2.6" fill="#0545e3"/>
<circle cx="468.7" cy="161.5" r="2.6" fill="#ffa500"/>
<circle cx="468.7" cy="175.6" r="2.1" fill="none" stroke="#daa520" stroke-width="1.2"/>
<line x1="458.6" x2="479.4" y1="190.4" y2="190.4" stroke="#1f9a94" stroke-width="1.9"/>
<line x1="458.6" x2="479.4" y1="204.4" y2="204.4" stroke="#ba652f" stroke-width="1.9"/>
<rect x="466.5" y="202.20000000000002" width="4.4" height="4.4" fill="#ba652f"/>
<line x1="458.6" x2="479.4" y1="218.2" y2="218.2" stroke="#62009a" stroke-width="2.0"/>
<line x1="458.6" x2="479.4" y1="232.2" y2="232.2" stroke="#ff8bca" stroke-width="1.1"/>
<line x1="468.7" x2="468.7" y1="227.89999999999998" y2="236.5" stroke="#ff8bca" stroke-width="1.1"/>
<rect x="466.4" y="229.89999999999998" width="4.6" height="4.6" rx="1.2" fill="#ff8bca"/>
<g font-family="'Liberation Sans', sans-serif" fill="#000" stroke="#000" stroke-width="0.15" font-size="9.9" style="filter:grayscale(1)">
<text x="486" y="136.39999999999998" textLength="5.8" lengthAdjust="spacingAndGlyphs">ρ</text>
<text x="492.2" y="138.79999999999998" textLength="7.8" lengthAdjust="spacingAndGlyphs" font-size="6.8">PS</text>
<text x="505.5" y="136.39999999999998" textLength="2.0" lengthAdjust="spacingAndGlyphs">:</text>
<text x="509.7" y="136.39999999999998" textLength="47.3" lengthAdjust="spacingAndGlyphs">This study</text>
<text x="486" y="150.6" textLength="5.8" lengthAdjust="spacingAndGlyphs">ρ</text>
<text x="492.2" y="153.0" textLength="8.2" lengthAdjust="spacingAndGlyphs" font-size="6.8">CS</text>
<text x="506.0" y="150.6" textLength="2.0" lengthAdjust="spacingAndGlyphs">:</text>
<text x="510.3" y="150.6" textLength="47.3" lengthAdjust="spacingAndGlyphs">This study</text>
<text x="486" y="164.7" textLength="5.8" lengthAdjust="spacingAndGlyphs">ρ</text>
<text x="492.2" y="167.1" textLength="9" lengthAdjust="spacingAndGlyphs" font-size="6.8">OS</text>
<text x="506.9" y="164.7" textLength="2.0" lengthAdjust="spacingAndGlyphs">:</text>
<text x="511.2" y="164.7" textLength="57.5" lengthAdjust="spacingAndGlyphs">Khatiya + 25</text>
<text x="486" y="178.79999999999998" textLength="5.8" lengthAdjust="spacingAndGlyphs">ρ</text>
<text x="492.2" y="181.2" textLength="10" lengthAdjust="spacingAndGlyphs" font-size="6.8">opt</text>
<text x="507.9" y="178.79999999999998" textLength="2.0" lengthAdjust="spacingAndGlyphs">:</text>
<text x="512.7" y="178.79999999999998" textLength="59" lengthAdjust="spacingAndGlyphs">Dainotti + 24</text>
<text x="485.8" y="193.5" textLength="24.6" lengthAdjust="spacingAndGlyphs">SFRD</text>
<text x="513" y="193.5" textLength="2.0" lengthAdjust="spacingAndGlyphs">:</text>
<text x="520.6" y="193.5" textLength="59.6" lengthAdjust="spacingAndGlyphs">Hopkins + 06</text>
<text x="485.8" y="207.5" textLength="24.6" lengthAdjust="spacingAndGlyphs">SFRD</text>
<text x="513" y="207.5" textLength="2.0" lengthAdjust="spacingAndGlyphs">:</text>
<text x="520.6" y="207.5" textLength="64.4" lengthAdjust="spacingAndGlyphs">Bouwens + 12</text>
<text x="485.8" y="221.29999999999998" textLength="24.6" lengthAdjust="spacingAndGlyphs">SFRD</text>
<text x="513" y="221.29999999999998" textLength="2.0" lengthAdjust="spacingAndGlyphs">:</text>
<text x="520.6" y="221.29999999999998" textLength="53.8" lengthAdjust="spacingAndGlyphs">Madau + 14</text>
<text x="485.8" y="235.29999999999998" textLength="24.6" lengthAdjust="spacingAndGlyphs">SFRD</text>
<text x="513" y="235.29999999999998" textLength="2.0" lengthAdjust="spacingAndGlyphs">:</text>
<text x="520.6" y="235.29999999999998" textLength="71.2" lengthAdjust="spacingAndGlyphs">Thompson + 06</text>
</g>
</svg>
</body></html>
